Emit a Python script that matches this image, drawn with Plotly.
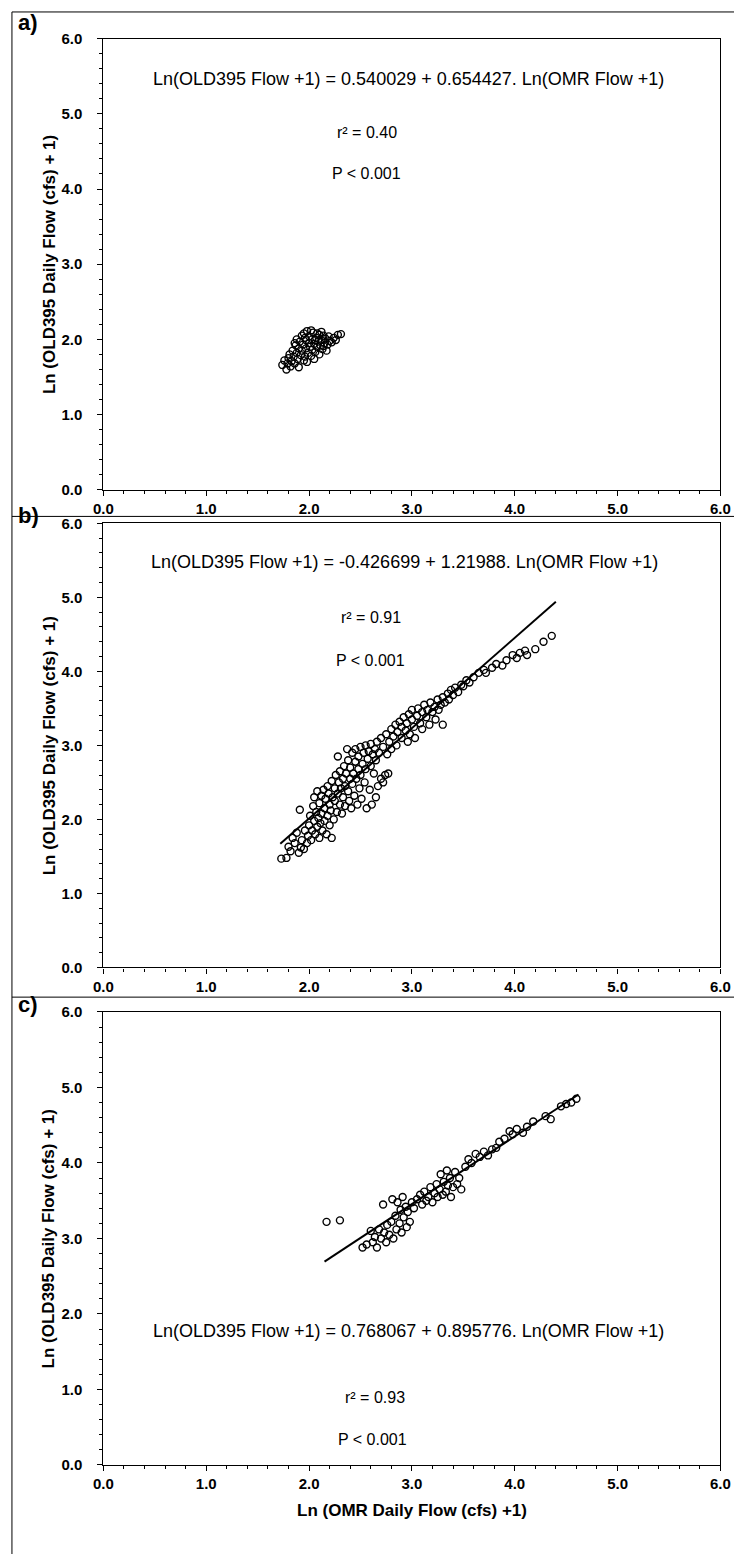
import plotly.graph_objects as go

# ---------------- data ----------------
a_x = [1.74, 1.76, 1.78, 1.79, 1.80, 1.82, 1.81, 1.83, 1.84, 1.85, 1.86, 1.87, 1.88, 1.89, 1.90, 1.91,
       1.92, 1.93, 1.93, 1.94, 1.95, 1.96, 1.97, 1.97, 1.98, 1.99, 2.00, 2.00, 2.01, 2.02, 2.03, 2.03,
       2.04, 2.05, 2.06, 2.07, 2.08, 2.09, 2.10, 2.10, 2.11, 2.12, 2.13, 2.14, 2.15, 2.16, 2.17, 2.18,
       2.19, 2.20, 2.22, 2.24, 2.26, 2.28, 2.31, 1.95, 2.05, 1.88, 2.02, 2.08, 1.86, 1.98, 2.12, 1.90,
       1.96, 2.06, 2.14]
a_y = [1.66, 1.72, 1.60, 1.68, 1.75, 1.64, 1.80, 1.71, 1.85, 1.77, 1.68, 1.92, 1.82, 1.74, 1.88, 1.97,
       1.79, 2.05, 1.85, 1.93, 2.08, 1.77, 1.99, 1.88, 2.11, 1.82, 1.95, 2.04, 1.90, 1.78, 2.00, 1.86,
       2.09, 1.94, 1.83, 2.02, 1.90, 1.97, 1.80, 2.06, 1.92, 1.99, 1.87, 2.05, 1.95, 2.01, 1.85, 1.93,
       2.04, 1.98, 1.96, 2.02, 1.99, 2.06, 2.07, 1.72, 1.74, 2.00, 2.12, 2.08, 1.95, 1.70, 2.10, 1.63,
       2.02, 1.99, 1.91]

b_x = [1.73, 1.78, 1.82, 1.80, 1.86, 1.84, 1.90, 1.92, 1.88, 1.93, 1.95, 1.96, 1.91,
       1.98, 1.99, 2.00, 2.01, 2.02, 2.03, 2.04, 2.05, 2.05, 2.06, 2.07, 2.08, 2.08, 2.09, 2.10, 2.10,
       2.11, 2.12, 2.12, 2.13, 2.14, 2.15, 2.15, 2.16, 2.17, 2.18, 2.18, 2.19, 2.20, 2.20, 2.21, 2.22,
       2.22, 2.23, 2.24, 2.25, 2.25, 2.26, 2.27, 2.28, 2.28, 2.29, 2.30, 2.30, 2.31, 2.32, 2.33, 2.33,
       2.34, 2.35, 2.35, 2.36, 2.37, 2.38, 2.38, 2.39, 2.40, 2.40, 2.41, 2.42, 2.42, 2.43, 2.44, 2.45,
       2.45, 2.46, 2.47, 2.48, 2.48, 2.49, 2.50, 2.50, 2.51, 2.52, 2.53, 2.54, 2.55, 2.55, 2.56, 2.57,
       2.58, 2.59, 2.60, 2.60, 2.61, 2.62, 2.63, 2.64, 2.65, 2.65, 2.66, 2.67, 2.68, 2.70, 2.70, 2.72,
       2.72, 2.74, 2.75, 2.76, 2.77, 2.78, 2.80, 2.80, 2.82, 2.84, 2.85, 2.86, 2.88, 2.90, 2.90, 2.92,
       2.94, 2.95, 2.96, 2.97, 2.98, 3.00, 3.00, 3.02, 3.03, 3.05, 3.06, 3.08, 3.10, 3.10, 3.12, 3.14,
       3.15, 3.17, 3.18, 3.20, 3.22, 3.23, 3.25, 3.26, 3.28, 3.30, 3.30, 3.32, 3.35, 3.36, 3.38, 3.40,
       3.42, 3.45, 3.48, 3.50, 3.53, 3.56, 3.60, 3.65, 3.70, 3.72, 3.78, 3.82, 3.88, 3.92, 3.98, 4.02,
       4.05, 4.10, 4.12, 4.20, 4.28, 4.36]
b_y = [1.47, 1.48, 1.57, 1.63, 1.68, 1.75, 1.55, 1.62, 1.82, 1.72, 1.60, 1.85, 2.13,
       1.68, 1.78, 1.92, 2.05, 1.72, 1.85, 2.18, 1.98, 2.30, 1.80, 2.10, 1.90, 2.38, 2.02, 1.75, 2.22,
       1.95, 2.32, 2.08, 1.85, 2.40, 2.15, 1.98, 2.28, 1.80, 2.05, 2.45, 2.35, 1.92, 2.20, 2.12, 2.52,
       1.75, 2.30, 2.00, 2.42, 2.25, 2.60, 2.10, 2.35, 2.85, 2.50, 2.20, 2.65, 2.42, 2.08, 2.55, 2.30,
       2.72, 2.18, 2.45, 2.62, 2.95, 2.38, 2.80, 2.25, 2.55, 2.70, 2.15, 2.90, 2.48, 2.62, 2.32, 2.78,
       2.95, 2.55, 2.20, 2.68, 2.85, 2.42, 2.98, 2.60, 2.28, 2.75, 2.90, 2.50, 2.68, 3.00, 2.15, 2.82,
       2.92, 2.40, 2.72, 3.02, 2.20, 2.88, 2.62, 2.95, 2.30, 2.80, 3.05, 2.45, 2.90, 2.55, 3.10, 2.98,
       2.50, 2.60, 3.15, 2.88, 2.62, 3.05, 3.22, 2.95, 3.12, 3.28, 3.00, 3.18, 3.32, 3.10, 3.25, 3.38,
       3.20, 3.30, 3.05, 3.42, 3.15, 3.35, 3.48, 3.25, 3.10, 3.40, 3.50, 3.30, 3.45, 3.22, 3.55, 3.38,
       3.48, 3.28, 3.58, 3.45, 3.52, 3.35, 3.62, 3.48, 3.55, 3.28, 3.65, 3.58, 3.70, 3.62, 3.75, 3.68,
       3.78, 3.72, 3.82, 3.80, 3.88, 3.85, 3.92, 3.98, 4.02, 3.98, 4.05, 4.10, 4.08, 4.15, 4.22, 4.18,
       4.25, 4.28, 4.22, 4.30, 4.40, 4.48]

c_x = [2.17, 2.30, 2.52, 2.56, 2.60, 2.62, 2.64, 2.66, 2.68, 2.70, 2.72, 2.73, 2.75, 2.76, 2.78, 2.80,
       2.81, 2.82, 2.84, 2.85, 2.86, 2.88, 2.89, 2.90, 2.91, 2.92, 2.94, 2.95, 2.96, 2.98, 3.00, 3.02,
       3.05, 3.08, 3.10, 3.12, 3.14, 3.16, 3.18, 3.20, 3.22, 3.24, 3.25, 3.27, 3.28, 3.30, 3.31, 3.33,
       3.34, 3.35, 3.37, 3.38, 3.40, 3.42, 3.44, 3.46, 3.48, 3.52, 3.55, 3.58, 3.62, 3.66, 3.70, 3.74,
       3.78, 3.82, 3.85, 3.90, 3.95, 3.98, 4.02, 4.08, 4.12, 4.18, 4.30, 4.35, 4.45, 4.50, 4.55, 4.60]
c_y = [3.22, 3.24, 2.88, 2.92, 3.10, 2.95, 3.02, 2.88, 3.12, 3.00, 3.45, 3.08, 2.95, 3.18, 3.05, 3.22,
       3.52, 3.00, 3.30, 3.12, 3.48, 3.20, 3.38, 3.08, 3.55, 3.28, 3.42, 3.15, 3.35, 3.22, 3.48, 3.40,
       3.52, 3.58, 3.45, 3.62, 3.50, 3.55, 3.68, 3.48, 3.60, 3.72, 3.55, 3.65, 3.85, 3.58, 3.75, 3.62,
       3.90, 3.70, 3.80, 3.55, 3.68, 3.88, 3.72, 3.80, 3.65, 3.95, 4.05, 4.00, 4.12, 4.08, 4.15, 4.10,
       4.18, 4.20, 4.28, 4.32, 4.42, 4.38, 4.45, 4.40, 4.48, 4.55, 4.62, 4.58, 4.75, 4.78, 4.80, 4.85]

b_fit_x = [1.72, 4.40]
b_intercept, b_slope = -0.426699, 1.21988
c_fit_x = [2.15, 4.62]
c_intercept, c_slope = 0.768067, 0.895776

eq_texts = ["Ln(OLD395 Flow +1) = 0.540029 + 0.654427. Ln(OMR Flow +1)",
            "Ln(OLD395 Flow +1) = -0.426699 + 1.21988. Ln(OMR Flow +1)",
            "Ln(OLD395 Flow +1) = 0.768067 + 0.895776. Ln(OMR Flow +1)"]
r2_texts = ["r² = 0.40", "r² = 0.91", "r² = 0.93"]
p_text = "P < 0.001"
panel_labels = ["a)", "b)", "c)"]
y_title = "Ln (OLD395 Daily Flow (cfs) + 1)"
x_title = "Ln (OMR Daily Flow (cfs) +1)"
tick_vals = [0, 1, 2, 3, 4, 5, 6]
tick_text = ["0.0", "1.0", "2.0", "3.0", "4.0", "5.0", "6.0"]

# ---------------- layout geometry ----------------
W, H = 744, 1562
FONT = "Liberation Sans, Arial, sans-serif"
x0, x1 = 96, 730
panels_px = [(30, 486), (520, 969), (1014, 1472)]  # (top, bottom) in px
label_px = [14, 512, 1006]


def py(v):
    return 1 - v / H


fig = go.Figure()
marker = dict(symbol="circle-open", size=7, color="black", line=dict(width=1.4, color="black"))
sets = [(a_x, a_y), (b_x, b_y), (c_x, c_y)]
for i, (xs, ys) in enumerate(sets):
    sfx = "" if i == 0 else str(i + 1)
    fig.add_trace(go.Scatter(x=xs, y=ys, mode="markers", marker=marker,
                             xaxis="x" + sfx, yaxis="y" + sfx, showlegend=False))

fig.add_trace(go.Scatter(x=b_fit_x, y=[b_intercept + b_slope * v for v in b_fit_x], mode="lines",
                         line=dict(color="black", width=2), xaxis="x2", yaxis="y2", showlegend=False))
fig.add_trace(go.Scatter(x=c_fit_x, y=[c_intercept + c_slope * v for v in c_fit_x], mode="lines",
                         line=dict(color="black", width=2), xaxis="x3", yaxis="y3", showlegend=False))

axis_common = dict(range=[0, 6], tickvals=tick_vals, ticktext=tick_text, showgrid=False, zeroline=False,
                   showline=True, linecolor="black", linewidth=1.3, mirror=True, ticks="outside",
                   ticklen=5, tickwidth=1, tickcolor="black",
                   minor=dict(dtick=0.2, ticks="outside", ticklen=3, tickcolor="black", tickwidth=1),
                   tickfont=dict(family=FONT, size=15, color="black", weight="bold"))

layout = dict(width=W, height=H, margin=dict(l=0, r=0, t=0, b=0), paper_bgcolor="white",
              plot_bgcolor="white", showlegend=False)
annotations = []
for i, (top, bot) in enumerate(panels_px):
    sfx = "" if i == 0 else str(i + 1)
    layout["xaxis" + sfx] = dict(axis_common, domain=[x0 / W, x1 / W], anchor="y" + sfx)
    layout["yaxis" + sfx] = dict(axis_common, domain=[py(bot), py(top)], anchor="x" + sfx,
                                 ticklabelstandoff=12)
    annotations.append(dict(text=panel_labels[i], x=6 / W, y=py(label_px[i]), xref="paper", yref="paper",
                            xanchor="left", yanchor="middle", showarrow=False,
                            font=dict(family=FONT, size=22, color="black", weight="bold")))
    annotations.append(dict(text=y_title, x=40 / W, y=py((top + bot) / 2), xref="paper", yref="paper",
                            xanchor="center", yanchor="middle", textangle=-90, showarrow=False,
                            font=dict(family=FONT, size=17, color="black", weight="bold")))

eq_font = dict(family=FONT, size=18, color="black")
txt_font = dict(family=FONT, size=16, color="black")
pos = [((2.97, 5.47), (2.56, 4.75), (2.56, 4.2)),
       ((2.93, 5.48), (2.6, 4.73), (2.6, 4.15)),
       ((2.97, 1.77), (2.64, 0.89), (2.62, 0.34))]
for i in range(3):
    sfx = "" if i == 0 else str(i + 1)
    (ex, ey), (rx, ry), (px_, py_) = pos[i]
    annotations.append(dict(text=eq_texts[i], x=ex, y=ey, xref="x" + sfx, yref="y" + sfx,
                            showarrow=False, font=eq_font))
    annotations.append(dict(text=r2_texts[i], x=rx, y=ry, xref="x" + sfx, yref="y" + sfx,
                            showarrow=False, font=txt_font))
    annotations.append(dict(text=p_text, x=px_, y=py_, xref="x" + sfx, yref="y" + sfx,
                            showarrow=False, font=txt_font))

annotations.append(dict(text=x_title, x=(x0 + x1) / 2 / W, y=py(1518), xref="paper", yref="paper",
                        xanchor="center", yanchor="middle", showarrow=False,
                        font=dict(family=FONT, size=17, color="black", weight="bold")))
layout["annotations"] = annotations

shapes = []
for yy in [3, 513, 999]:
    shapes.append(dict(type="line", xref="paper", yref="paper", x0=2 / W, x1=1, y0=py(yy), y1=py(yy),
                       line=dict(color="black", width=1)))
shapes.append(dict(type="line", xref="paper", yref="paper", x0=2 / W, x1=2 / W, y0=0, y1=py(3),
                   line=dict(color="black", width=1)))
layout["shapes"] = shapes

fig.update_layout(**layout)
fig.write_html("out.html")
